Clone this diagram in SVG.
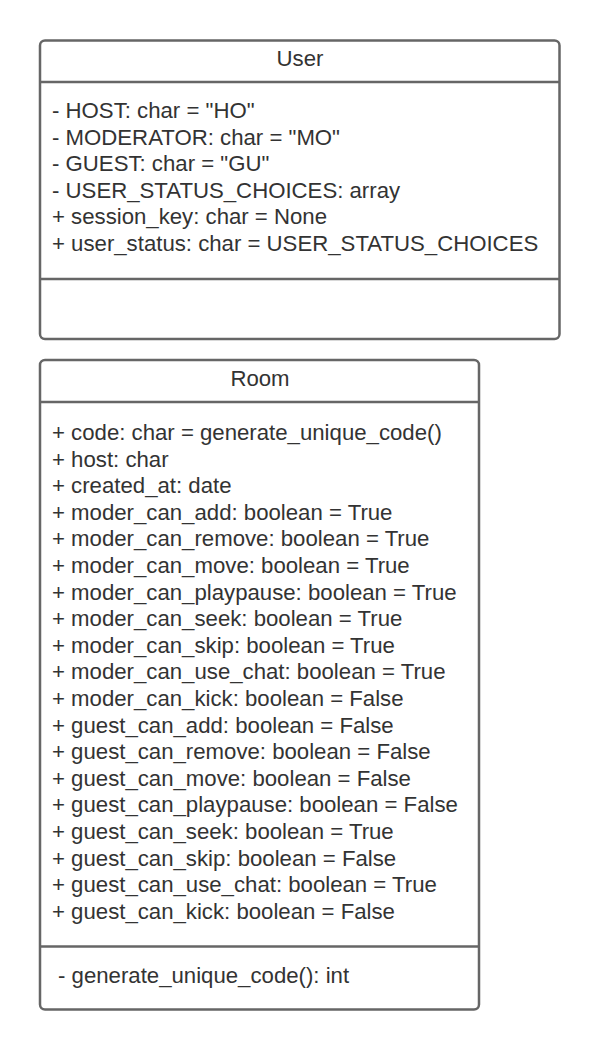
<svg xmlns="http://www.w3.org/2000/svg" width="600" height="1051" viewBox="0 0 600 1051">
<style>
.box{fill:#ffffff;stroke:#666666;stroke-width:2.5}
.sep{stroke:#666666;stroke-width:2.5}
text{font-family:"Liberation Sans",Arial,sans-serif;font-size:22.2px;fill:#333333}
.t{text-anchor:middle}
</style>
<rect width="600" height="1051" fill="#ffffff"/>
<g id="User">
<rect class="box" x="40" y="40.5" width="519.5" height="298.5" rx="5"/>
<line class="sep" x1="40" y1="82" x2="559.5" y2="82"/>
<line class="sep" x1="40" y1="279" x2="559.5" y2="279"/>
<text class="t" x="300" y="65.5">User</text>
<text x="52" y="118">- HOST: char = "HO"</text>
<text x="52" y="144.6">- MODERATOR: char = "MO"</text>
<text x="52" y="171.2">- GUEST: char = "GU"</text>
<text x="52" y="197.8">- USER_STATUS_CHOICES: array</text>
<text x="52" y="224.4">+ session_key: char = None</text>
<text x="52" y="251">+ user_status: char = USER_STATUS_CHOICES</text>
</g>
<g id="Room">
<rect class="box" x="40" y="360" width="439" height="649.5" rx="5"/>
<line class="sep" x1="40" y1="402" x2="479" y2="402"/>
<line class="sep" x1="40" y1="946.5" x2="479" y2="946.5"/>
<text class="t" x="260" y="386">Room</text>
<text x="52" y="440">+ code: char = generate_unique_code()</text>
<text x="52" y="466.6">+ host: char</text>
<text x="52" y="493.2">+ created_at: date</text>
<text x="52" y="519.8">+ moder_can_add: boolean = True</text>
<text x="52" y="546.4">+ moder_can_remove: boolean = True</text>
<text x="52" y="573">+ moder_can_move: boolean = True</text>
<text x="52" y="599.6">+ moder_can_playpause: boolean = True</text>
<text x="52" y="626.2">+ moder_can_seek: boolean = True</text>
<text x="52" y="652.8">+ moder_can_skip: boolean = True</text>
<text x="52" y="679.4">+ moder_can_use_chat: boolean = True</text>
<text x="52" y="706">+ moder_can_kick: boolean = False</text>
<text x="52" y="732.6">+ guest_can_add: boolean = False</text>
<text x="52" y="759.2">+ guest_can_remove: boolean = False</text>
<text x="52" y="785.8">+ guest_can_move: boolean = False</text>
<text x="52" y="812.4">+ guest_can_playpause: boolean = False</text>
<text x="52" y="839">+ guest_can_seek: boolean = True</text>
<text x="52" y="865.6">+ guest_can_skip: boolean = False</text>
<text x="52" y="892.2">+ guest_can_use_chat: boolean = True</text>
<text x="52" y="918.8">+ guest_can_kick: boolean = False</text>
<text x="58" y="983">- generate_unique_code(): int</text>
</g>
<g id="connectors"></g>
</svg>
